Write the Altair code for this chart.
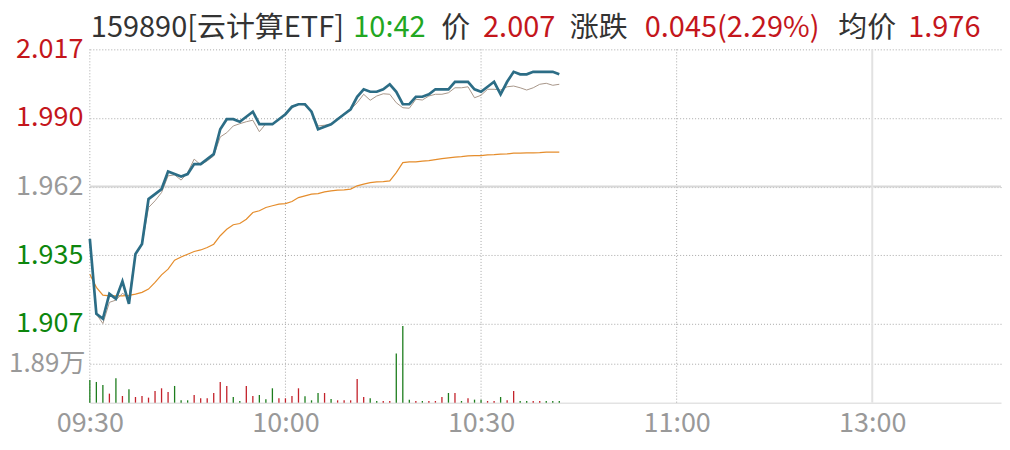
import altair as alt
import pandas as pd

# ---------------- data ----------------
minute = list(range(73))  # minutes after 09:30
price = [1.941, 1.911, 1.909, 1.919, 1.917, 1.924, 1.915, 1.935, 1.939, 1.957,
         1.959, 1.961, 1.968, 1.967, 1.966, 1.967, 1.971, 1.971, 1.973, 1.975,
         1.985, 1.989, 1.989, 1.988, 1.990, 1.992, 1.987, 1.987, 1.987, 1.989,
         1.991, 1.994, 1.995, 1.995, 1.992, 1.985, 1.986, 1.987, 1.989, 1.991,
         1.993, 1.998, 2.001, 2.000, 2.000, 2.001, 2.003, 2.000, 1.995, 1.995,
         1.998, 1.998, 1.999, 2.001, 2.001, 2.001, 2.004, 2.004, 2.004, 2.001,
         2.000, 2.002, 2.004, 1.999, 2.004, 2.008, 2.007, 2.007, 2.008, 2.008,
         2.008, 2.008, 2.007]
iopv = [None, 1.9109, 1.9071, 1.9156, 1.9165, 1.9192, 1.9176, 1.9349, 1.9387, 1.9536,
        1.9563, 1.9596, 1.9663, 1.9667, 1.9646, 1.9676, 1.9730, 1.9707, 1.9723, 1.9743,
        1.9819, 1.9836, 1.9863, 1.9872, 1.9880, 1.9886, 1.9840, 1.9872, 1.9870, 1.9890,
        1.9910, 1.9936, 1.9950, 1.9947, 1.9916, 1.9863, 1.9866, 1.9870, 1.9894, 1.9912,
        1.9930, 1.9956, 1.9990, 1.9966, 1.9983, 1.9992, 1.9990, 1.9956, 1.9936, 1.9934,
        1.9970, 1.9967, 1.9983, 1.9990, 1.9990, 1.9996, 2.0016, 2.0016, 2.0020, 1.9976,
        1.9986, 2.0010, 2.0010, 2.0007, 2.0020, 2.0023, 2.0016, 2.0007, 2.0016, 2.0030,
        2.0034, 2.0026, 2.0030]
avg_price = [1.9269, 1.9216, 1.9185, 1.9182, 1.9182, 1.9182, 1.9184, 1.9189, 1.9196, 1.9209,
             1.9236, 1.9266, 1.9289, 1.9325, 1.9338, 1.9349, 1.9360, 1.9366, 1.9376, 1.9389,
             1.9423, 1.9449, 1.9467, 1.9472, 1.9489, 1.9516, 1.9523, 1.9536, 1.9543, 1.9550,
             1.9552, 1.9560, 1.9576, 1.9583, 1.9590, 1.9592, 1.9599, 1.9603, 1.9606, 1.9607,
             1.9610, 1.9623, 1.9630, 1.9636, 1.9639, 1.9640, 1.9643, 1.9676, 1.9716, 1.9719,
             1.9719, 1.9722, 1.9724, 1.9728, 1.9732, 1.9735, 1.9738, 1.9740, 1.9743, 1.9744,
             1.9744, 1.9747, 1.9748, 1.9750, 1.9751, 1.9754, 1.9754, 1.9755, 1.9755, 1.9756,
             1.9758, 1.9758, 1.9758]
volume = [10880, 9920, 8480, 4320, 11680, 3200, 6400, 2720, 3200, 2400,
          5600, 6880, 5120, 8000, 1120, 1120, 3680, 2080, 2080, 4640,
          9920, 8000, 2720, 800, 8000, 3200, 3680, 1600, 6880, 2080,
          2080, 3200, 6880, 3040, 1120, 4640, 4640, 1760, 1120, 1120,
          1120, 11360, 2720, 2080, 800, 800, 800, 23520, 36800, 1440,
          800, 800, 800, 800, 2720, 4640, 4640, 800, 2080, 1440,
          1440, 800, 800, 2720, 1120, 5600, 800, 800, 800, 800,
          800, 800, 800]
direction = list("dddududuuu" "uuuddduuuu" "uudduudddu" "uuuddduduu"
                 "uuudduuddd" "uduuududud" "duuduudduu" "ddd")

prev_close = 1.962
price_ticks = [1.907, 1.9345, 1.962, 1.9895, 2.017]
vol_tick = [18900]
vol_tick_label = "1.89万"
time_ticks = [0, 30, 60, 90]
time_labels = ["09:30", "10:00", "10:30", "11:00", "13:00"]
afternoon_open = 120
label_ticks = time_ticks + [afternoon_open]

title_texts = ["159890[云计算ETF]", "10:42", "价", "2.007", "涨跌",
               "0.045(2.29%)", "均价", "1.976"]

# ---------------- styling ----------------
RED = "#c4161c"
GREEN = "#0d860d"
BRIGHT_GREEN = "#22a722"
GREY = "#999999"
DARK = "#333333"
GRID = "#a8a8a8"
FONT = "Noto Sans CJK SC"
title_colors = [DARK, BRIGHT_GREEN, DARK, RED, DARK, RED, DARK, RED]
title_x = [1, 264, 352, 394, 481, 556, 750, 820]

W = 913
PX_PER_MIN = 196 / 30
X_MAX = W / PX_PER_MIN
H_PRICE = 275
H_VOL = 79

df = pd.DataFrame({"minute": minute, "price": price, "iopv": iopv,
                   "avg": avg_price, "volume": volume, "dir": direction})
assert len(df) == 73

time_expr = " : ".join(f"datum.value == {t} ? '{l}'" for t, l in zip(label_ticks, time_labels)) + " : ''"

x_scale = alt.Scale(domain=[0, X_MAX], nice=False, zero=False, padding=0)
y_price_scale = alt.Scale(domain=[1.907, 2.017], nice=False, zero=False)

price_axis = alt.Axis(
    values=price_ticks, labelExpr="format(datum.value + 0.00001, '.3f')",
    labelColor={"condition": [{"test": "datum.value > 1.963", "value": RED},
                              {"test": "datum.value < 1.961", "value": GREEN}],
                "value": GREY},
    labelFont=FONT, labelFontSize=27, labelPadding=7, ticks=False, domain=False,
    grid=True, gridDash=[1, 2], gridColor=GRID, gridWidth=1, title=None,
    labelBaseline="middle")

base = alt.Chart(df)

grid_layer = base.mark_line(opacity=0).encode(
    x=alt.X("minute:Q", scale=x_scale, axis=None),
    y=alt.Y("price:Q", scale=y_price_scale, axis=price_axis))

vgrid_df = pd.DataFrame({"m": time_ticks})
vgrid = alt.Chart(vgrid_df).mark_rule(color=GRID, strokeWidth=1, strokeDash=[1, 2]).encode(
    x=alt.X("m:Q", scale=x_scale, axis=None))

prev_rule = alt.Chart(pd.DataFrame({"p": [prev_close]})).mark_rule(
    color="#d8d8d8", strokeWidth=2).encode(y=alt.Y("p:Q", scale=y_price_scale))
pm_rule = alt.Chart(pd.DataFrame({"m": [afternoon_open]})).mark_rule(
    color="#e2e2e2", strokeWidth=2).encode(x=alt.X("m:Q", scale=x_scale, axis=None))

avg_line = base.mark_line(color="#e58d2c", strokeWidth=1.2).encode(
    x="minute:Q", y=alt.Y("avg:Q", scale=y_price_scale))
iopv_line = base.transform_filter("isValid(datum.iopv)").mark_line(
    color="#a8978a", strokeWidth=1).encode(
    x="minute:Q", y=alt.Y("iopv:Q", scale=y_price_scale))
price_line = base.mark_line(color="#2c6d86", strokeWidth=2.7).encode(
    x="minute:Q", y=alt.Y("price:Q", scale=y_price_scale))

title_layers = []
for txt, col, xx in zip(title_texts, title_colors, title_x):
    title_layers.append(
        alt.Chart(pd.DataFrame({"t": [txt]})).mark_text(
            align="left", baseline="alphabetic", font=FONT, fontSize=29, color=col
        ).encode(text="t:N", x=alt.value(xx), y=alt.value(-12))
    )

# invisible anchors that fix the chart origin and extent on the page
anchor = alt.Chart(pd.DataFrame({"a": [0]})).mark_rule(strokeOpacity=0).encode(
    x=alt.value(-81), x2=alt.value(-80), y=alt.value(-40.8))
anchor_v = alt.Chart(pd.DataFrame({"a": [0]})).mark_rule(strokeOpacity=0).encode(
    x=alt.value(-81), x2=alt.value(-80), y=alt.value(10))
anchor_bottom = alt.Chart(pd.DataFrame({"a": [0]})).mark_rule(strokeOpacity=0).encode(
    x=alt.value(0), x2=alt.value(1), y=alt.value(H_VOL + 44))

price_chart = alt.layer(grid_layer, vgrid, prev_rule, pm_rule, avg_line, iopv_line, price_line,
                        *title_layers, anchor).properties(width=W, height=H_PRICE)

# ---------------- volume panel ----------------
x_vol = alt.X("minute:Q", scale=x_scale,
              axis=alt.Axis(values=label_ticks, labelExpr=time_expr, labelColor=GREY,
                            labelFont=FONT, labelFontSize=27, labelPadding=21,
                            labelBaseline="middle", labelFlush=False, labelAlign="center",
                            labelOverlap=False, ticks=False, domain=True,
                            domainColor="#e3e3e3", domainWidth=1.5,
                            grid=False, title=None))
vol_scale = alt.Scale(domain=[0, 37800], nice=False, zero=True)
vol_axis = alt.Axis(values=vol_tick, labelExpr=f"'{vol_tick_label}'", labelColor=GREY,
                    labelFont=FONT, labelFontSize=26, labelPadding=5, ticks=False,
                    domain=False, grid=True, gridDash=[1, 2], gridColor=GRID, gridWidth=1,
                    title=None, labelBaseline="middle")

vol_bars = base.mark_bar(size=1.3).encode(
    x=x_vol,
    y=alt.Y("volume:Q", scale=vol_scale, axis=vol_axis),
    color=alt.Color("dir:N", scale=alt.Scale(domain=["u", "d"], range=["#c3222b", "#1d7d1d"]),
                    legend=None),
)
vgrid_v = alt.Chart(vgrid_df).mark_rule(color=GRID, strokeWidth=1, strokeDash=[1, 2]).encode(
    x=alt.X("m:Q", scale=x_scale))
pm_rule_v = alt.Chart(pd.DataFrame({"m": [afternoon_open]})).mark_rule(
    color="#e2e2e2", strokeWidth=2).encode(x=alt.X("m:Q", scale=x_scale))

vol_chart = alt.layer(vgrid_v, pm_rule_v, vol_bars, anchor_v, anchor_bottom).properties(
    width=W, height=H_VOL)

chart = alt.vconcat(price_chart, vol_chart, spacing=0, bounds="flush").properties(
    padding={"left": 0, "top": 0, "right": 0, "bottom": 0}
).configure_view(strokeWidth=0)

chart.save("out.html", embed_options={"renderer": "svg", "actions": False})
